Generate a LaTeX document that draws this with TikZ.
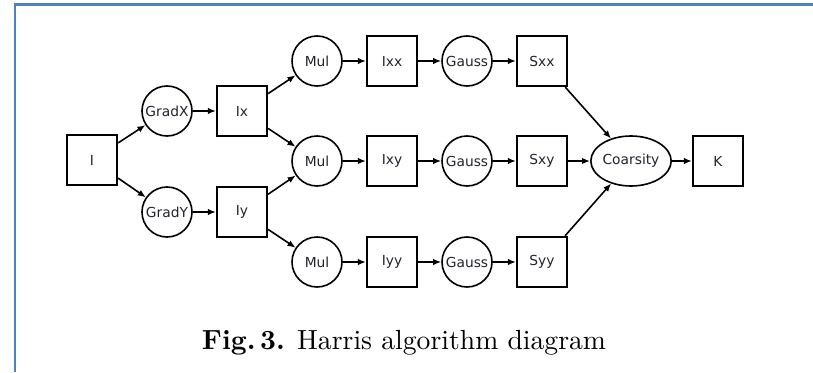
\documentclass[tikz,border=0pt]{standalone}
\usepackage{fontspec}
\setsansfont{DejaVu Sans}
\usetikzlibrary{shapes.geometric,arrows.meta}
\definecolor{framebl}{RGB}{79,129,189}
\definecolor{ink}{RGB}{35,35,45}
\tikzset{
  x=1pt, y=-1pt,
  every node/.style={font=\sffamily\fontsize{13.8}{16}\selectfont, text=ink, inner sep=0pt},
  datum/.style={draw, line width=2.2pt, minimum width=50pt, minimum height=50pt},
  oper/.style={draw, circle, line width=1.6pt, minimum size=50pt},
  merge/.style={draw, ellipse, line width=1.6pt, minimum width=75pt, minimum height=50pt},
  flow/.style={line width=1.6pt, -{Latex[length=8pt,width=6.5pt]}},
}
\begin{document}
\begin{tikzpicture}
\useasboundingbox (0,0) rectangle (813,372);
% frame rules
\draw[framebl, line width=2.2pt] (15,372) -- (15,4.5) -- (813,4.5);

% input and gradients
\node[datum] (I) at (92,160) {I};
\node[oper] (gx) at (167,111) {GradX};
\node[oper] (gy) at (167,212) {GradY};
\node[datum] (Ix) at (242,111) {Ix};
\node[datum] (Iy) at (242,212) {Iy};

% products
\node[oper] (m1) at (317,61) {Mul};
\node[oper] (m2) at (317,161) {Mul};
\node[oper] (m3) at (317,262) {Mul};
\node[datum] (Ixx) at (392,61) {Ixx};
\node[datum] (Ixy) at (392,161) {Ixy};
\node[datum] (Iyy) at (392,262) {Iyy};

% smoothing
\node[oper] (g1) at (467,61) {Gauss};
\node[oper] (g2) at (467,161) {Gauss};
\node[oper] (g3) at (467,262) {Gauss};
\node[datum] (Sxx) at (542,61) {Sxx};
\node[datum] (Sxy) at (542,161) {Sxy};
\node[datum] (Syy) at (542,262) {Syy};

% response
\node[merge] (C) at (631,161) {Coarsity};
\node[datum] (K) at (718,161) {K};

% connectors
\draw[flow] (I) -- (gx);
\draw[flow] (I) -- (gy);
\draw[flow] (gx) -- (Ix);
\draw[flow] (gy) -- (Iy);
\draw[flow] (Ix) -- (m1);
\draw[flow] (Ix) -- (m2);
\draw[flow] (Iy) -- (m2);
\draw[flow] (Iy) -- (m3);
\draw[flow] (m1) -- (Ixx);
\draw[flow] (m2) -- (Ixy);
\draw[flow] (m3) -- (Iyy);
\draw[flow] (Ixx) -- (g1);
\draw[flow] (Ixy) -- (g2);
\draw[flow] (Iyy) -- (g3);
\draw[flow] (g1) -- (Sxx);
\draw[flow] (g2) -- (Sxy);
\draw[flow] (g3) -- (Syy);
\draw[flow] (Sxx) -- (C);
\draw[flow] (Sxy) -- (C);
\draw[flow] (Syy) -- (C);
\draw[flow] (C) -- (K);

% caption
\node[font=\rmfamily\fontsize{10}{12}\selectfont, text=black, anchor=base] (cap) at (404,349)
  {\resizebox{404pt}{!}{\textbf{Fig.\,3.} Harris algorithm diagram}};
\end{tikzpicture}
\end{document}
